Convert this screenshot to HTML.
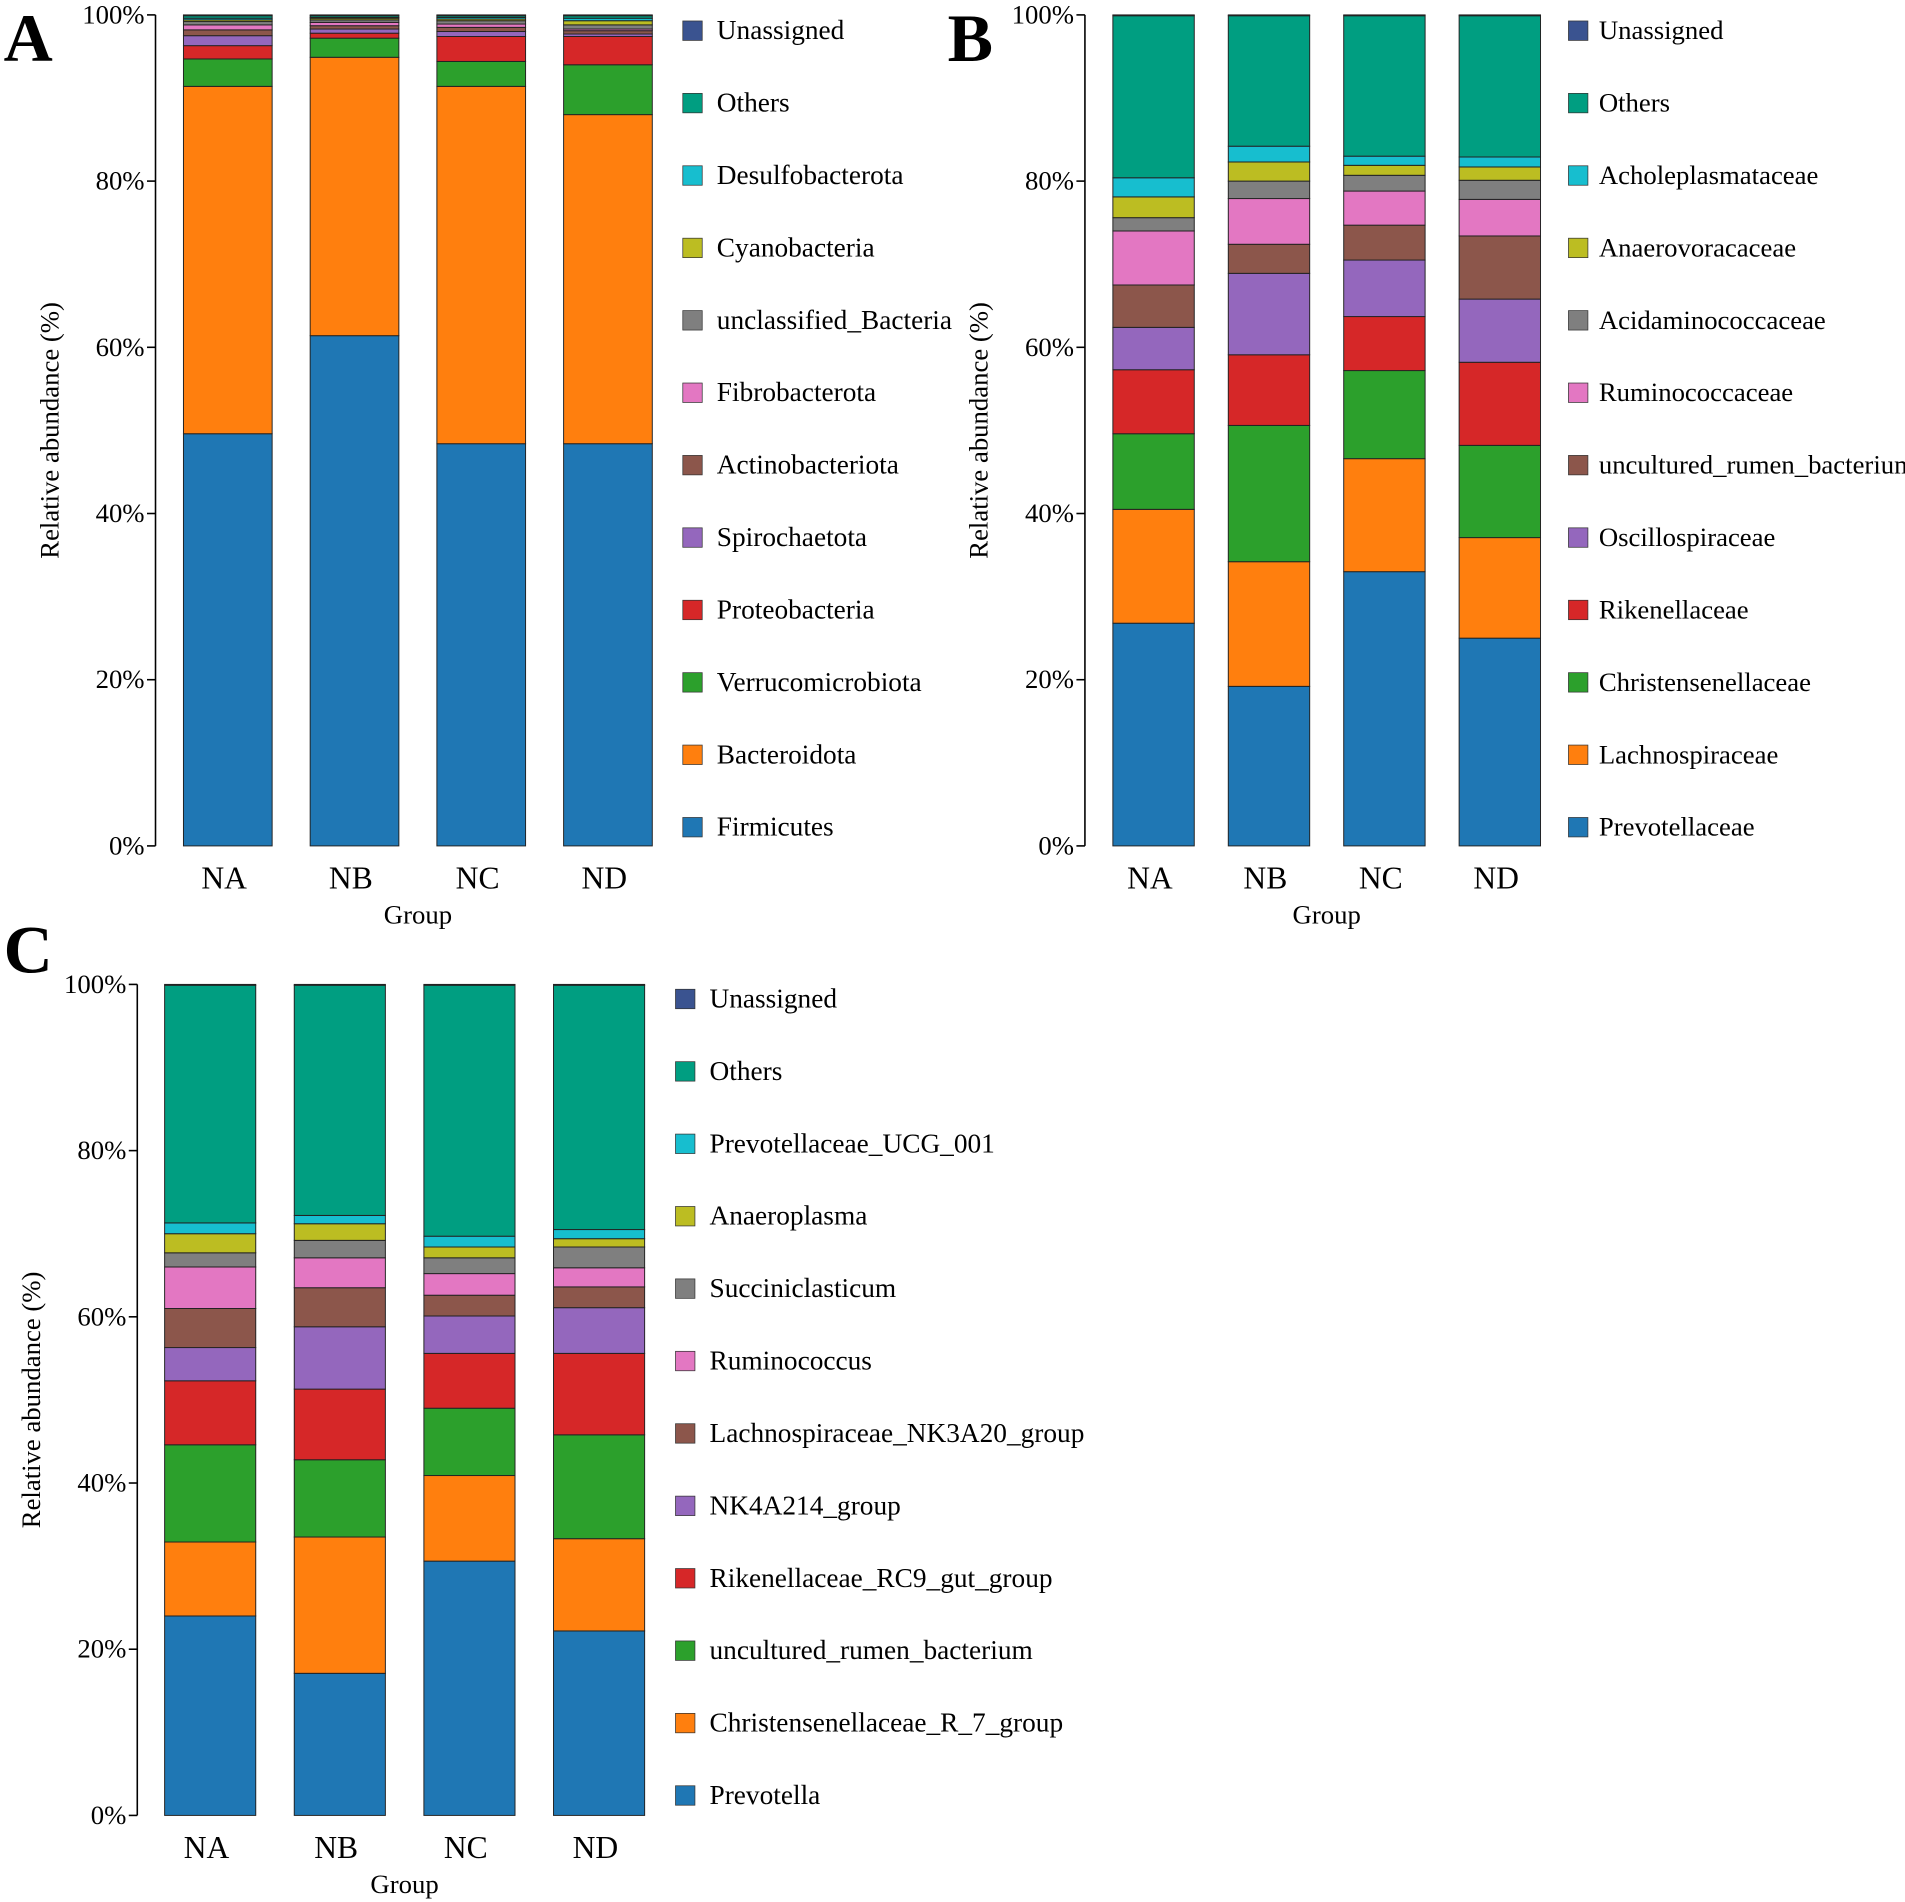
<!DOCTYPE html>
<html><head><meta charset="utf-8">
<style>
html,body{margin:0;padding:0;background:#fff;}
svg{display:block;font-family:"Liberation Serif",serif;}
</style></head>
<body>
<svg id="chart" width="1905" height="1902" viewBox="0 0 1568 1565" xmlns="http://www.w3.org/2000/svg" font-family="Liberation Serif, serif"></svg>
<script>
const groups = ["NA","NB","NC","ND"];
const yTicks = [0,20,40,60,80,100];
const colors = ["#1f77b4","#ff7f0e","#2ca02c","#d62728","#9467bd","#8c564b","#e377c2","#7f7f7f","#bcbd22","#17becf","#009e81","#3a5390"];

const taxaA = ["Firmicutes","Bacteroidota","Verrucomicrobiota","Proteobacteria","Spirochaetota","Actinobacteriota","Fibrobacterota","unclassified_Bacteria","Cyanobacteria","Desulfobacterota","Others","Unassigned"];
const valuesA_NA = [49.6,41.8,3.3,1.6,1.2,0.7,0.6,0.4,0.2,0.2,0.3,0.1];
const valuesA_NB = [61.4,33.5,2.3,0.6,0.5,0.4,0.4,0.3,0.2,0.1,0.2,0.1];
const valuesA_NC = [48.4,43.0,3.0,3.0,0.6,0.5,0.4,0.4,0.2,0.2,0.2,0.1];
const valuesA_ND = [48.4,39.6,6.0,3.4,0.3,0.4,0.2,0.5,0.5,0.3,0.3,0.1];

const taxaB = ["Prevotellaceae","Lachnospiraceae","Christensenellaceae","Rikenellaceae","Oscillospiraceae","uncultured_rumen_bacterium","Ruminococcaceae","Acidaminococcaceae","Anaerovoracaceae","Acholeplasmataceae","Others","Unassigned"];
const valuesB_NA = [26.8,13.7,9.1,7.7,5.1,5.1,6.5,1.6,2.5,2.3,19.5,0.1];
const valuesB_NB = [19.2,15.0,16.4,8.5,9.8,3.5,5.5,2.1,2.3,1.9,15.7,0.1];
const valuesB_NC = [33.0,13.6,10.6,6.5,6.8,4.2,4.1,1.9,1.2,1.1,16.9,0.1];
const valuesB_ND = [25.0,12.1,11.1,10.0,7.6,7.6,4.4,2.3,1.6,1.2,17.0,0.1];

const taxaC = ["Prevotella","Christensenellaceae_R_7_group","uncultured_rumen_bacterium","Rikenellaceae_RC9_gut_group","NK4A214_group","Lachnospiraceae_NK3A20_group","Ruminococcus","Succiniclasticum","Anaeroplasma","Prevotellaceae_UCG_001","Others","Unassigned"];
const valuesC_NA = [24.0,8.9,11.7,7.7,4.0,4.7,5.0,1.7,2.3,1.3,28.6,0.1];
const valuesC_NB = [17.1,16.4,9.3,8.5,7.5,4.7,3.6,2.1,2.0,1.0,27.7,0.1];
const valuesC_NC = [30.6,10.3,8.1,6.6,4.5,2.5,2.6,1.9,1.3,1.3,30.2,0.1];
const valuesC_ND = [22.2,11.1,12.5,9.8,5.5,2.5,2.3,2.5,1.0,1.1,29.4,0.1];

const NS = "http://www.w3.org/2000/svg";
const svg = document.getElementById("chart");
function mk(tag, attrs, parent){
  const e = document.createElementNS(NS, tag);
  for (const k in attrs) e.setAttribute(k, attrs[k]);
  (parent||svg).appendChild(e); return e;
}

function panel(cfg){
  const g = mk("g", {});
  
  
  const y = v => cfg.y0 - (cfg.y0 - cfg.y1) * v / 100;
  const xc = i => cfg.barX0 + i * cfg.barStep;
  const L = mk("text", {x: cfg.letterX, y: cfg.letterY, "font-size": 56, "font-weight": "bold"}, g);
  L.textContent = cfg.letter;
  
  
  const ax = mk("line", {x1: cfg.axisX, x2: cfg.axisX, y1: y(0), y2: y(100), stroke: "#000", "stroke-width": 1.3}, g);
  
  
  yTicks.forEach(t => {
    mk("line", {x1: cfg.axisX - 7, x2: cfg.axisX, y1: y(t), y2: y(t), stroke: "#000", "stroke-width": 1.3}, g);
    const tx = mk("text", {x: cfg.axisX - 9, y: y(t) + 7, "font-size": 22, "text-anchor": "end"}, g);
    tx.textContent = t + "%";
    
    
  });
  const yt = mk("text", {x: 0, y: 0, "font-size": 22, "text-anchor": "middle", transform: `translate(${cfg.axisX - 80},${(y(0)+y(100))/2}) rotate(-90)`}, g);
  yt.textContent = "Relative abundance (%)";
  
  
  cfg.series.forEach((vals, gi) => {
    let acc = 0;
    vals.forEach((v, si) => {
      const r = mk("rect", {x: xc(gi) - cfg.barW/2, y: y(acc + v), width: cfg.barW, height: y(acc) - y(acc + v), fill: colors[si], stroke: "#222", "stroke-width": 0.8}, g);
      
      
      acc += v;
    });
    const xl = mk("text", {x: xc(gi) - 3, y: y(0) + 35, "font-size": 26, "text-anchor": "middle"}, g);
    xl.textContent = groups[gi];
    
    
  });
  const xt = mk("text", {x: cfg.groupX, y: y(0) + 64, "font-size": 22, "text-anchor": "middle"}, g);
  xt.textContent = "Group";
  
  
  const n = cfg.taxa.length;
  for (let k = 0; k < n; k++) {
    const si = n - 1 - k;
    const cy = cfg.legY0 + k * cfg.legStep;
    const le = mk("g", {}, g);
    
    
    mk("rect", {x: cfg.legX, y: cy - 8, width: 16, height: 16, fill: colors[si], stroke: "#333", "stroke-width": 0.6}, le);
    const lt = mk("text", {x: cfg.legX + cfg.legGap, y: cy + 7, "font-size": cfg.legFont}, le);
    lt.textContent = cfg.taxa[si];
  }
}

panel({letter:"A", letterX:3, letterY:50, axisX:128, y0:696, y1:12, barX0:187.5, barStep:104.3, barW:73, groupX:344,
  taxa: taxaA, series:[valuesA_NA,valuesA_NB,valuesA_NC,valuesA_ND], legX:562, legY0:25, legStep:59.6, legGap:28, legFont:22.5});
panel({letter:"B", letterX:780, letterY:50, axisX:893, y0:696, y1:12, barX0:949.5, barStep:95, barW:67, groupX:1092,
  taxa: taxaB, series:[valuesB_NA,valuesB_NB,valuesB_NC,valuesB_ND], legX:1291, legY0:25, legStep:59.6, legGap:25, legFont:22});
panel({letter:"C", letterX:3, letterY:800, axisX:113, y0:1494, y1:810, barX0:173, barStep:106.7, barW:75, groupX:333,
  taxa: taxaC, series:[valuesC_NA,valuesC_NB,valuesC_NC,valuesC_ND], legX:556, legY0:822, legStep:59.6, legGap:28, legFont:22.5});
</script>
</body></html>
